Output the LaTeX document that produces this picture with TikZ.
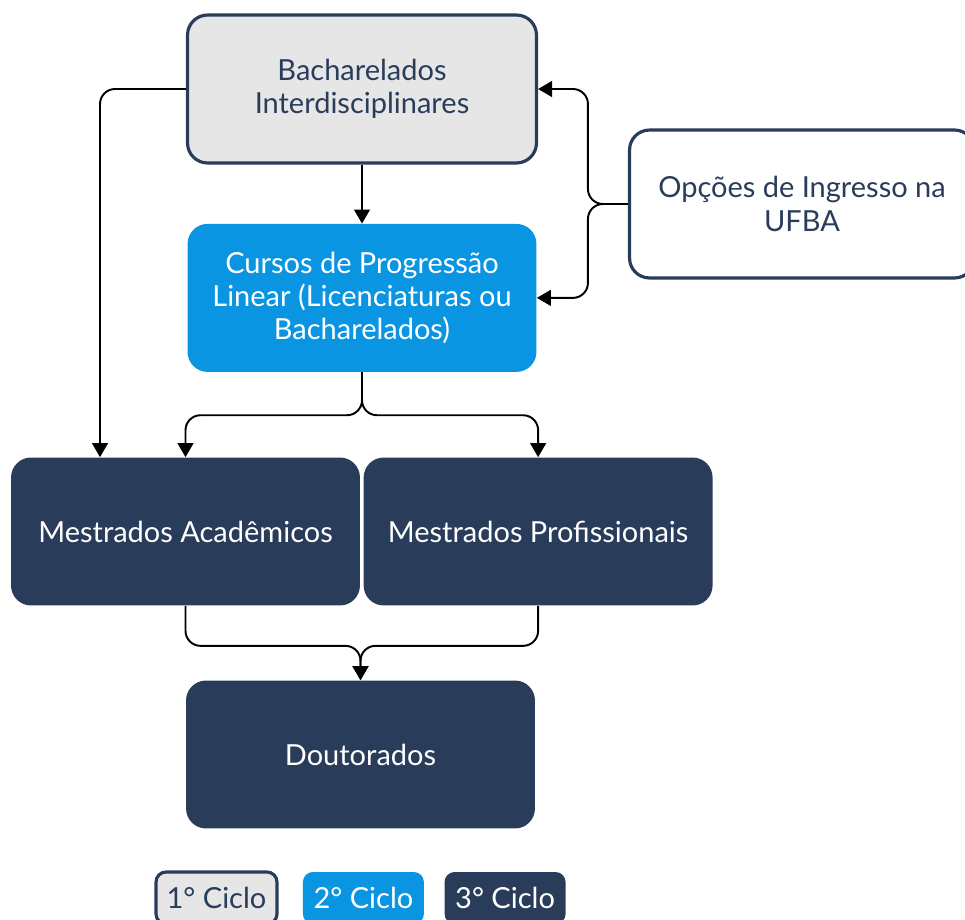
\documentclass[tikz,border=0pt]{standalone}
\usepackage{fontspec}
\setmainfont{Lato}
\usetikzlibrary{positioning, arrows.meta}
\definecolor{azulufba}{HTML}{0A95E2}
\definecolor{marinho}{HTML}{293D5A}
\definecolor{cinzaclaro}{HTML}{E6E6E6}
\tikzset{
	>={Triangle[length=8pt,width=9pt]}, % Punta de flecha triangular
	link/.style={->, line width=1.1pt, rounded corners=0.3cm}, % Conectores
	caixa/.style={rectangle, rounded corners=0.4cm, minimum width=6.98cm,
		minimum height=2.96cm, align=center, font=\fontsize{16.5}{19}\selectfont}, % Caja base
	ciclo1/.style={caixa, draw=marinho, line width=1.8pt, fill=cinzaclaro, text=marinho}, % 1o ciclo
	ciclo2/.style={caixa, fill=azulufba, text=white}, % 2o ciclo
	ciclo3/.style={caixa, fill=marinho, text=white}, % 3o ciclo
	legenda/.style={minimum width=2.42cm, minimum height=1.04cm, rounded corners=0.2cm} % Leyenda
}

\begin{document}
\begin{tikzpicture}[x=0.02cm, y=-0.02cm]
	\useasboundingbox (0,0) rectangle (965,920);
	
	\node[ciclo1] (bach) at (362,89) {Bacharelados\\Interdisciplinares};
	\node[ciclo2, below=1.18cm of bach] (cursos) {Cursos de Progressão\\Linear (Licenciaturas ou\\Bacharelados)};
	\node[ciclo1, fill=white, minimum width=6.9cm] (opcoes) at (802,204) {Opções de Ingresso na\\UFBA};
	
	\node[ciclo3] (macad) at (185.5,531.5) {Mestrados Acadêmicos};
	\node[ciclo3, right=0.06cm of macad] (mprof) {Mestrados Profissionais};
	\node[ciclo3] (dout) at (360.5,754.5) {Doutorados};
	
	\node[ciclo1, legenda] (leg1) at (216.5,898) {1° Ciclo};
	\node[ciclo2, legenda, right=0.48cm of leg1] (leg2) {2° Ciclo};
	\node[ciclo3, legenda, right=0.4cm of leg2] (leg3) {3° Ciclo};
	
	\draw[link] (bach.west) -| ([xshift=-1.71cm]macad.north);
	\draw[link] (bach) -- (cursos);
	\draw[link] (opcoes.west) -- ++(-40,0) |- (bach.east);
	\draw[link] (opcoes.west) -- ++(-40,0) |- (cursos.east);
	\draw[link] (cursos.south) -- ++(0,43) -| (macad.north);
	\draw[link] (cursos.south) -- ++(0,43) -| (mprof.north);
	\draw[link] (macad.south) -- ++(0,40) -| (dout.north);
	\draw[link] (mprof.south) -- ++(0,40) -| (dout.north);
\end{tikzpicture}
\end{document}
